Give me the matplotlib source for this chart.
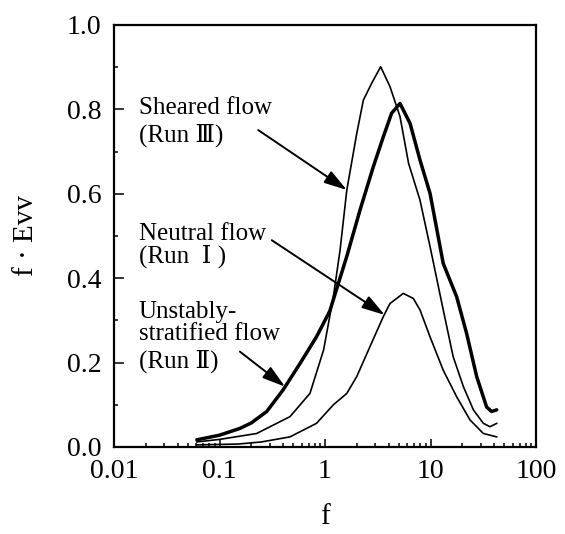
import matplotlib
matplotlib.use("Agg")
import matplotlib.pyplot as plt
from matplotlib.ticker import FixedLocator, FixedFormatter, LogLocator, NullFormatter, MultipleLocator
import numpy as np

plt.rcParams['font.family'] = ['Liberation Serif', 'DejaVu Serif', 'DejaVu Sans']

# Run II: unstably-stratified flow (thick line)
f_run2 = [0.061, 0.10, 0.156, 0.20, 0.28, 0.40, 0.58, 0.83, 1.11, 1.28, 1.61, 2.15, 2.87,
          3.57, 4.28, 5.14, 6.40, 7.95, 9.90, 13.2, 17.7, 22.0, 27.4, 34.0, 38.0, 42.4]
e_run2 = [0.017, 0.028, 0.044, 0.057, 0.084, 0.135, 0.198, 0.261, 0.322, 0.372, 0.452, 0.562,
          0.664, 0.735, 0.791, 0.814, 0.767, 0.680, 0.601, 0.435, 0.356, 0.269, 0.167, 0.095,
          0.084, 0.088]

# Run III: sheared flow (thin line, highest peak)
f_run3 = [0.061, 0.10, 0.225, 0.466, 0.72, 0.97, 1.20, 1.39, 1.61, 2.00, 2.31, 2.77, 3.37,
          4.13, 5.14, 6.20, 7.95, 9.90, 13.2, 16.4, 20.5, 25.5, 31.7, 36.7, 42.4]
e_run3 = [0.012, 0.018, 0.032, 0.072, 0.127, 0.230, 0.356, 0.467, 0.609, 0.743, 0.822, 0.862,
          0.901, 0.854, 0.783, 0.672, 0.585, 0.475, 0.325, 0.214, 0.143, 0.088, 0.056, 0.048,
          0.056]

# Run I: neutral flow (thin line, lowest peak)
f_run1 = [0.061, 0.15, 0.25, 0.466, 0.83, 1.20, 1.61, 2.00, 2.67, 3.57, 4.13, 5.52, 6.87,
          7.95, 9.90, 13.2, 17.7, 23.7, 31.7, 42.4]
e_run1 = [0.005, 0.007, 0.012, 0.024, 0.056, 0.100, 0.127, 0.167, 0.238, 0.309, 0.340, 0.364,
          0.352, 0.325, 0.261, 0.182, 0.119, 0.064, 0.032, 0.024]

x_ticks = [0.01, 0.1, 1, 10, 100]
x_tick_labels = ['0.01', '0.1', '1', '10', '100']
y_ticks = [0.0, 0.2, 0.4, 0.6, 0.8, 1.0]
y_tick_labels = ['0.0', '0.2', '0.4', '0.6', '0.8', '1.0']

fig = plt.figure(figsize=(5.65, 5.34), dpi=100)
ax = fig.add_axes([114/565, (534-447)/534, 422/565, 422/534])

ax.plot(f_run2, e_run2, color='black', lw=2.5, solid_capstyle='round', solid_joinstyle='round')
ax.plot(f_run3, e_run3, color='black', lw=1.2, solid_joinstyle='round')
ax.plot(f_run1, e_run1, color='black', lw=1.2, solid_joinstyle='round')

ax.set_xscale('log')
ax.set_xlim(0.01, 100)
ax.set_ylim(0, 1.0)

ax.xaxis.set_major_locator(FixedLocator(x_ticks))
ax.xaxis.set_major_formatter(FixedFormatter(x_tick_labels))
ax.xaxis.set_minor_locator(LogLocator(base=10, subs=np.arange(2, 10), numticks=20))
ax.xaxis.set_minor_formatter(NullFormatter())
ax.yaxis.set_major_locator(FixedLocator(y_ticks))
ax.yaxis.set_major_formatter(FixedFormatter(y_tick_labels))
ax.yaxis.set_minor_locator(MultipleLocator(0.1))

for s in ax.spines.values():
    s.set_linewidth(1.6)

ax.tick_params(axis='both', which='both', direction='in', top=False, right=False,
               labelsize=20, pad=9, width=1.1)
ax.tick_params(axis='y', which='major', length=7.5)
ax.tick_params(axis='y', which='minor', length=3)
ax.tick_params(axis='x', which='major', length=6)
ax.tick_params(axis='x', which='minor', length=3)

ax.set_xlabel('f', fontsize=21, labelpad=14)
ax.set_ylabel('f · Evv', fontsize=21, labelpad=20)

tfs = 18
tx = 0.0172
ax.text(tx, 0.803, 'Sheared flow', fontsize=tfs, va='center', ha='left')
ax.text(tx, 0.739, '(Run Ⅲ)', fontsize=tfs, va='center', ha='left')
ax.text(tx, 0.504, 'Neutral flow', fontsize=tfs, va='center', ha='left')
ax.text(tx, 0.451, '(Run  Ⅰ )', fontsize=tfs, va='center', ha='left')
ax.text(tx, 0.321, 'Unstably-', fontsize=tfs, va='center', ha='left')
ax.text(tx, 0.268, 'stratified flow', fontsize=tfs, va='center', ha='left')
ax.text(tx, 0.204, '(Run Ⅱ)', fontsize=tfs, va='center', ha='left')

ap = dict(arrowstyle='-|>,head_length=1.0,head_width=0.3', lw=1.4, color='black',
          shrinkA=0, shrinkB=0, mutation_scale=14)
ax.annotate('', xy=(1.61, 0.609), xytext=(0.233, 0.751), arrowprops=ap)
ax.annotate('', xy=(3.68, 0.313), xytext=(0.313, 0.490), arrowprops=ap)
ax.annotate('', xy=(0.418, 0.143), xytext=(0.156, 0.226), arrowprops=ap)

fig.savefig('out.png', dpi=100)
